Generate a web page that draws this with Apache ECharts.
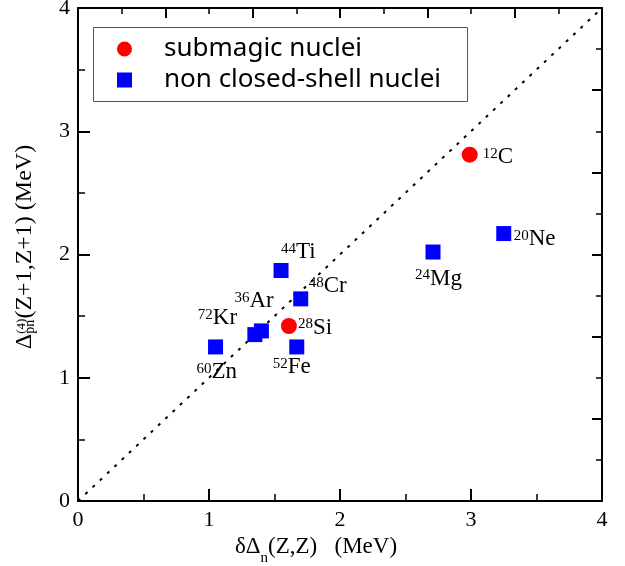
<!DOCTYPE html>
<html>
<head>
<meta charset="utf-8">
<script src="https://cdn.jsdelivr.net/npm/echarts@6/dist/echarts.min.js"></script>
<style>
  html, body { margin: 0; padding: 0; background: #fff; }
  #chart { width: 625px; height: 566px; }
</style>
</head>
<body>
<div id="chart"></div>
<script>
// ---- data ----
const submagicNames = ['C', 'Si']
const submagicMass = [12, 28]
const submagicX = [2.99, 1.61]
const submagicY = [2.81, 1.42]

const openShellNames = ['Ne', 'Mg', 'Ti', 'Cr', 'Ar', 'Kr', 'Fe', 'Zn']
const openShellMass = [20, 24, 44, 48, 36, 72, 52, 60]
const openShellX = [3.25, 2.71, 1.55, 1.70, 1.40, 1.35, 1.67, 1.05]
const openShellY = [2.17, 2.02, 1.87, 1.64, 1.38, 1.35, 1.25, 1.25]

const diagonalX = [0, 4]
const diagonalY = [0, 4]

const seriesNames = ['submagic nuclei', 'non closed-shell nuclei']

// ---- label placement (px from symbol centre: left of mass number, middle of element) ----
const labelOffset = {
  C: [13, 3], Si: [9, 2], Ne: [10, 6], Mg: [-18, 27], Ti: [0, -18],
  Cr: [8, -12], Ar: [-27, -29], Kr: [-57, -16], Fe: [-24, 21], Zn: [-19, 26],
}

const SERIF = 'Liberation Serif'

function nucleusData(names, mass, xs, ys) {
  return names.map((n, i) => ({
    value: [xs[i], ys[i], n, mass[i]],
    label: { offset: [labelOffset[n][0], labelOffset[n][1] + 11] },
  }))
}

const nucleusLabel = {
  show: true,
  position: 'inside',
  align: 'left',
  verticalAlign: 'bottom',
  color: '#000',
  formatter: (p) => `{sup|${p.value[3]}}{el|${p.value[2]}}`,
  rich: {
    sup: { fontFamily: SERIF, fontSize: 15, lineHeight: 14, verticalAlign: 'top', padding: [0, 0, 18, 0], color: '#000' },
    el: { fontFamily: SERIF, fontSize: 23, lineHeight: 22, verticalAlign: 'bottom', color: '#000' },
  },
}

function frameAxis(pos, show) {
  return {
    type: 'value',
    position: pos,
    min: 0,
    max: show ? 4 : 12,
    interval: show ? 1 : 2,
    axisLine: { show: true, onZero: false, lineStyle: { color: '#000', width: 2 } },
    axisTick: { show: true, inside: true, length: show ? 12 : 10, lineStyle: { color: '#000', width: 2 } },
    minorTick: { show: true, splitNumber: 2, length: show ? 7 : 6, lineStyle: { color: '#000', width: 1.5 } },
    splitLine: { show: false },
    minorSplitLine: { show: false },
    axisLabel: {
      show: show,
      color: '#000',
      fontFamily: SERIF,
      fontSize: 22,
      margin: 8,
    },
  }
}

const chart = echarts.init(document.getElementById('chart'), null, { renderer: 'canvas' })

chart.setOption({
  backgroundColor: '#fff',
  animation: false,
  grid: { left: 78, right: 23, top: 8, bottom: 65, outerBoundsMode: 'none' },
  legend: {
    orient: 'vertical',
    left: 91,
    top: 25,
    padding: [11, 10, 4, 26],
    itemWidth: 15,
    itemHeight: 15,
    itemGap: 5,
    selectedMode: false,
    data: [
      { name: seriesNames[0], icon: 'circle' },
      { name: seriesNames[1], icon: 'rect' },
    ],
    textStyle: {
      fontFamily: 'Noto Sans',
      fontSize: 26,
      lineHeight: 15,
      color: '#000',
      padding: [0, 0, 0, 27],
    },
  },
  graphic: [
    {
      type: 'rect',
      left: 91,
      top: 25,
      shape: { width: 374, height: 74 },
      style: { fill: 'none', stroke: '#555', lineWidth: 1 },
      z: 10,
    },
  ],
  xAxis: [
    {
      ...frameAxis('bottom', true),
      name: '{t|δΔ}{sub|n}{t|(Z,Z)   (MeV)}',
      nameLocation: 'middle',
      nameGap: 33,
      nameTextStyle: {
        padding: [0, 48, 0, 0],
        rich: {
          t: { fontFamily: SERIF, fontSize: 23, lineHeight: 24, verticalAlign: 'top', align: 'left', color: '#000' },
          sub: { fontFamily: SERIF, fontSize: 15, lineHeight: 15, verticalAlign: 'top', align: 'left', padding: [15, 0, 0, 0], color: '#000' },
        },
      },
    },
    frameAxis('top', false),
  ],
  yAxis: [
    {
      ...frameAxis('left', true),
      name: '{t|Δ}{sub|pn}{sup|(4)}{t|(Z+1,Z+1) (MeV)}',
      nameLocation: 'middle',
      nameGap: 34,
      nameTextStyle: {
        padding: [0, 0, 0, 15],
        rich: {
          t: { fontFamily: SERIF, fontSize: 24, lineHeight: 22, verticalAlign: 'bottom', align: 'left', color: '#000' },
          sub: { fontFamily: SERIF, fontSize: 14, lineHeight: 14, verticalAlign: 'bottom', align: 'left', width: 0, color: '#000' },
          sup: { fontFamily: SERIF, fontSize: 13, lineHeight: 13, verticalAlign: 'top', align: 'left', padding: [0, 0, 20, 0], color: '#000' },
        },
      },
    },
    frameAxis('right', false),
  ],
  series: [
    {
      name: 'y = x',
      type: 'line',
      data: diagonalX.map((x, i) => [x, diagonalY[i]]),
      symbol: 'none',
      silent: true,
      lineStyle: { color: '#000', width: 2, type: [3, 7] },
      z: 1,
    },
    {
      name: seriesNames[0],
      type: 'scatter',
      symbol: 'circle',
      symbolSize: 16,
      itemStyle: { color: '#ff0000', opacity: 1 },
      label: nucleusLabel,
      data: nucleusData(submagicNames, submagicMass, submagicX, submagicY),
      z: 3,
    },
    {
      name: seriesNames[1],
      type: 'scatter',
      symbol: 'rect',
      symbolSize: 15,
      itemStyle: { color: '#0000ff', opacity: 1 },
      label: nucleusLabel,
      data: nucleusData(openShellNames, openShellMass, openShellX, openShellY),
      z: 3,
    },
  ],
})
</script>
</body>
</html>
